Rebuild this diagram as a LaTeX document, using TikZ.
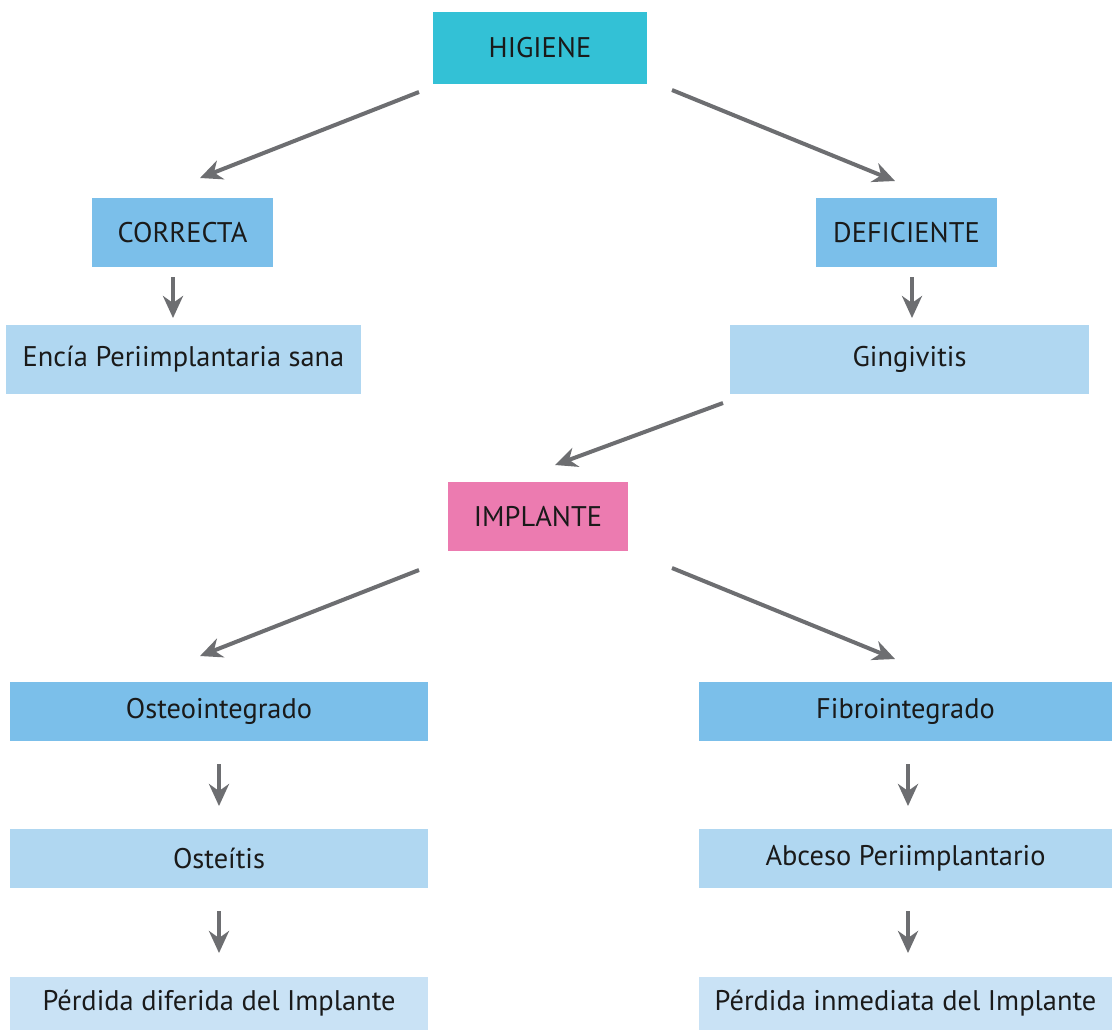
\documentclass[tikz,border=0pt]{standalone}
\usepackage{fontspec}
\setmainfont{PT Sans}
\usetikzlibrary{arrows.meta}
\definecolor{cyanbox}{HTML}{33C1D6}
\definecolor{midblue}{HTML}{7BBFEA}
\definecolor{lightblue}{HTML}{B0D7F1}
\definecolor{paleblue}{HTML}{C9E2F5}
\definecolor{pinkbox}{HTML}{EC7BB0}
\definecolor{arrowgray}{HTML}{6D6E71}
\definecolor{txt}{HTML}{1A1A1A}
\begin{document}
\begin{tikzpicture}[x=0.5pt,y=-0.5pt,
  box/.style={rectangle,inner sep=0pt,outer sep=0pt,text=txt,font=\fontsize{14.2}{16}\selectfont,minimum height=34.5pt},
  conn/.style={draw=arrowgray,line width=2pt,-{Stealth[length=11pt,width=10pt,inset=3.5pt]}}]
\useasboundingbox (0,0) rectangle (1112,1030);
\fill[white] (0,0) rectangle (1112,1030);
% nodes
\node[box,fill=cyanbox,minimum width=107pt,minimum height=36pt] (hig) at (540,48) {HIGIENE};
\node[box,fill=midblue,minimum width=90.5pt] (cor) at (182.5,232.5) {CORRECTA};
\node[box,fill=midblue,minimum width=90.5pt] (def) at (906.5,232.5) {DEFICIENTE};
\node[box,fill=lightblue,minimum width=177.5pt] (enc) at (183.5,359.5) {Encía Periimplantaria sana};
\node[box,fill=lightblue,minimum width=179.5pt] (gin) at (909.5,359.5) {Gingivitis};
\node[box,fill=pinkbox,minimum width=90pt] (imp) at (538,516.5) {IMPLANTE};
\node[box,fill=midblue,minimum width=209pt,minimum height=29.5pt] (ost) at (219,711.5) {Osteointegrado};
\node[box,fill=midblue,minimum width=206.5pt,minimum height=29.5pt] (fib) at (905.5,711.5) {Fibrointegrado};
\node[box,fill=lightblue,minimum width=209pt,minimum height=29.5pt] (osi) at (219,858.5) {Osteítis};
\node[box,fill=lightblue,minimum width=206.5pt,minimum height=29.5pt] (abc) at (905.5,858.5) {Abceso Periimplantario};
\node[box,fill=paleblue,minimum width=209pt,minimum height=26.5pt] (pdi) at (219,1003.5) {Pérdida diferida del Implante};
\node[box,fill=paleblue,minimum width=206.5pt,minimum height=26.5pt] (pin) at (905.5,1003.5) {Pérdida inmediata del Implante};
% connector end points
\coordinate (a1s) at (419,92);  \coordinate (a1e) at (200,178);
\coordinate (a2s) at (672,90);  \coordinate (a2e) at (895,181);
\coordinate (a3s) at (173,277); \coordinate (a3e) at (173,318);
\coordinate (a4s) at (912,277); \coordinate (a4e) at (912,318);
\coordinate (a5s) at (723,403); \coordinate (a5e) at (555,465);
\coordinate (a6s) at (419,570); \coordinate (a6e) at (200,656);
\coordinate (a7s) at (672,568); \coordinate (a7e) at (895,659);
\coordinate (a8s) at (219,764); \coordinate (a8e) at (219,806);
\coordinate (a9s) at (219,911); \coordinate (a9e) at (219,953);
\coordinate (a10s) at (908,764); \coordinate (a10e) at (908,806);
\coordinate (a11s) at (908,911); \coordinate (a11e) at (908,953);
\draw[conn] (a1s) -- (a1e);
\draw[conn] (a2s) -- (a2e);
\draw[conn] (a3s) -- (a3e);
\draw[conn] (a4s) -- (a4e);
\draw[conn] (a5s) -- (a5e);
\draw[conn] (a6s) -- (a6e);
\draw[conn] (a7s) -- (a7e);
\draw[conn] (a8s) -- (a8e);
\draw[conn] (a9s) -- (a9e);
\draw[conn] (a10s) -- (a10e);
\draw[conn] (a11s) -- (a11e);
\end{tikzpicture}
\end{document}
